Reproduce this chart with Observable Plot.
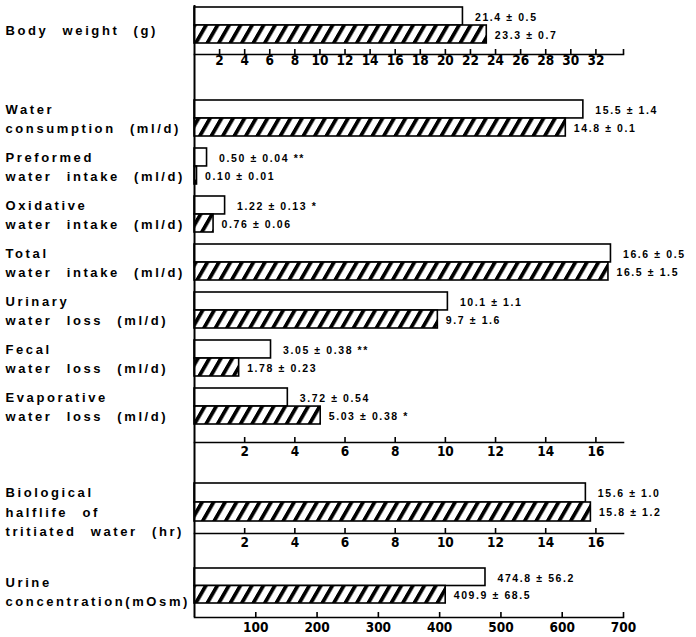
<!DOCTYPE html>
<html><head><meta charset="utf-8">
<script src="https://cdn.jsdelivr.net/npm/d3@7"></script>
<script src="https://cdn.jsdelivr.net/npm/@observablehq/plot@0.6"></script>
<style>
body{margin:0;background:#fff;}
#chart{width:696px;}
#chart svg{display:block;overflow:visible;}
</style></head><body><div id="chart"></div>
<script>
// ---- data ----
const bwLabels = ["Body weight (g)"];
const bwCtrl = [21.4];
const bwExp = [23.3];
const bwCtrlText = ["21.4 ± 0.5"];
const bwExpText = ["23.3 ± 0.7"];
const bwTicks = [2,4,6,8,10,12,14,16,18,20,22,24,26,28,30,32];

const waterLabels = [
  "Water\nconsumption (ml/d)",
  "Preformed\nwater intake (ml/d)",
  "Oxidative\nwater intake (ml/d)",
  "Total\nwater intake (ml/d)",
  "Urinary\nwater loss (ml/d)",
  "Fecal\nwater loss (ml/d)",
  "Evaporative\nwater loss (ml/d)"
];
const waterCtrl = [15.5, 0.50, 1.22, 16.6, 10.1, 3.05, 3.72];
const waterExp = [14.8, 0.10, 0.76, 16.5, 9.7, 1.78, 5.03];
const waterCtrlText = ["15.5 ± 1.4", "0.50 ± 0.04 **", "1.22 ± 0.13 *", "16.6 ± 0.5", "10.1 ± 1.1", "3.05 ± 0.38 **", "3.72 ± 0.54"];
const waterExpText = ["14.8 ± 0.1", "0.10 ± 0.01", "0.76 ± 0.06", "16.5 ± 1.5", "9.7 ± 1.6", "1.78 ± 0.23", "5.03 ± 0.38 *"];
const waterTicks = [2,4,6,8,10,12,14,16];

const halfLabels = ["Biological\nhalflife of\ntritiated water (hr)"];
const halfCtrl = [15.6];
const halfExp = [15.8];
const halfCtrlText = ["15.6 ± 1.0"];
const halfExpText = ["15.8 ± 1.2"];
const halfTicks = [2,4,6,8,10,12,14,16];

const urineLabels = ["Urine\nconcentration(mOsm)"];
const urineCtrl = [474.8];
const urineExp = [409.9];
const urineCtrlText = ["474.8 ± 56.2"];
const urineExpText = ["409.9 ± 68.5"];
const urineTicks = [100,200,300,400,500,600,700];

// ---- drawing ----
const LABEL_FONT = "'Liberation Sans', Arial, sans-serif";
const TICK_FONT = "'Liberation Sans Narrow', 'DejaVu Sans Condensed', 'Liberation Sans', sans-serif";

function panel(o) {
  const rows = o.labels.map((l, i) => ({label: l, ctrl: o.ctrl[i], exp: o.exp[i], ctrlText: o.ctrlText[i], expText: o.expText[i]}));
  const pin = o.paddingInner ?? 0;
  const step = (o.yRange[1] - o.yRange[0]) / (o.labels.length - pin);
  const band = step * (1 - pin);
  const half = band / 2;
  const frameH = o.height - o.marginTop - o.marginBottom;
  const marks = [
    Plot.barX(rows, {x: "ctrl", y: "label", insetBottom: half, fill: "white", stroke: "black", strokeWidth: 1.6}),
    Plot.barX(rows, {x: "exp", y: "label", insetTop: half, fill: `url(#${o.id})`, stroke: "black", strokeWidth: 1.6}),
    Plot.text(rows, {x: "ctrl", y: "label", text: "ctrlText", dx: 12, dy: -half / 2 + 1, textAnchor: "start",
      fontSize: 10.5, fontWeight: "bold", fontFamily: LABEL_FONT}),
    Plot.text(rows, {x: "exp", y: "label", text: "expText", dx: 8, dy: half / 2 + 1, textAnchor: "start",
      fontSize: 10.5, fontWeight: "bold", fontFamily: LABEL_FONT}),
    Plot.text(rows, {y: "label", text: "label", frameAnchor: "left", dx: -189, dy: o.labelDy, textAnchor: "start",
      lineHeight: 1.5, fontSize: 13, fontWeight: "bold", fontFamily: LABEL_FONT}),
    Plot.frame({anchor: "bottom", strokeWidth: 1.6}),
    Plot.tickX(o.ticks, {x: d => d, insetTop: frameH - 5, strokeWidth: 1.6}),
    Plot.axisX({ticks: o.ticks, tickSize: 0, tickPadding: o.tickPadding, tickFormat: d => String(d),
      fontSize: 13.5, fontWeight: "bold", fontFamily: TICK_FONT}),
    Plot.ruleX([0], {insetTop: o.ruleTop, insetBottom: o.ruleBottom, strokeWidth: 2})
  ];
  if (o.endTick) marks.push(Plot.tickX([o.xMax], {x: d => d, insetTop: frameH - 5, strokeWidth: 1.6}));
  const svg = Plot.plot({
    width: 696, height: o.height,
    marginLeft: 194, marginRight: 696 - 623, marginTop: o.marginTop, marginBottom: o.marginBottom,
    style: {background: "white", color: "black", overflow: "visible"},
    x: {domain: [0, o.xMax]},
    y: {domain: o.labels, range: o.yRange, paddingInner: pin, paddingOuter: 0, axis: null},
    marks
  });
  const s = d3.select(svg);
  // the three label text marks, in mark order: ctrl values, exp values, row labels
  const textGroups = s.selectAll('g[aria-label="text"]').nodes();
  textGroups.forEach((g, i) => {
    const texts = d3.select(g).selectAll("text");
    if (i < 2) texts.style("letter-spacing", "1.6px");
    else texts.style("letter-spacing", "2.6px").style("word-spacing", "8px");
  });
  const defs = s.insert("defs", ":first-child");
  const pat = defs.append("pattern").attr("id", o.id).attr("patternUnits", "userSpaceOnUse")
    .attr("width", 11.5).attr("height", 40).attr("patternTransform", "skewX(-30)");
  pat.append("rect").attr("width", 11.5).attr("height", 40).attr("fill", "white");
  pat.append("rect").attr("x", 0).attr("width", 4.3).attr("height", 40).attr("fill", "black");
  return svg;
}

const chart = document.getElementById("chart");
chart.append(panel({id: "hatchA", labels: bwLabels, ctrl: bwCtrl, exp: bwExp, ctrlText: bwCtrlText, expText: bwExpText,
  ticks: bwTicks, xMax: 34.2, endTick: true, height: 80, marginTop: 5, marginBottom: 26, yRange: [7, 43],
  labelDy: 3, ruleTop: 0, ruleBottom: -26, tickPadding: 1}));
chart.append(panel({id: "hatchB", labels: waterLabels, ctrl: waterCtrl, exp: waterExp, ctrlText: waterCtrlText, expText: waterExpText,
  ticks: waterTicks, xMax: 17.1, height: 390, marginTop: 5, marginBottom: 28, yRange: [17, 346], paddingInner: 0.26,
  labelDy: -1, ruleTop: -5, ruleBottom: -28, tickPadding: 4}));
chart.append(panel({id: "hatchC", labels: halfLabels, ctrl: halfCtrl, exp: halfExp, ctrlText: halfCtrlText, expText: halfExpText,
  ticks: halfTicks, xMax: 17.1, height: 90, marginTop: 5, marginBottom: 27, yRange: [13, 51],
  labelDy: 8, ruleTop: -5, ruleBottom: -27, tickPadding: 4}));
chart.append(panel({id: "hatchD", labels: urineLabels, ctrl: urineCtrl, exp: urineExp, ctrlText: urineCtrlText, expText: urineExpText,
  ticks: urineTicks, xMax: 700, height: 77, marginTop: 3, marginBottom: 20, yRange: [8, 43],
  labelDy: 4, ruleTop: -3, ruleBottom: 0, tickPadding: 5}));
</script></body></html>
